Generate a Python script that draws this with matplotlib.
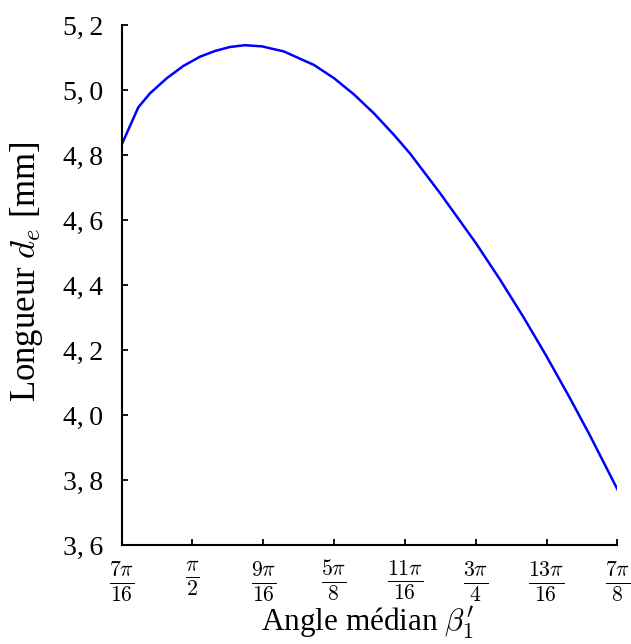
import numpy as np
import matplotlib
matplotlib.use("Agg")
import matplotlib.pyplot as plt

plt.rcParams["font.family"] = ["Liberation Serif", "DejaVu Serif"]
plt.rcParams["mathtext.fontset"] = "cm"

# Median angle beta'_1 (rad) and length d_e (mm)
beta = [1.37445, 1.4210, 1.4534, 1.4997, 1.5457, 1.5920, 1.6335, 1.6751,
        1.7167, 1.7638, 1.8247, 1.9079, 1.9633, 2.0187, 2.0742, 2.1296,
        2.1739, 2.2570, 2.3568, 2.4233, 2.4879, 2.5508, 2.6173, 2.6727,
        2.74889]
d_e = [4.8311, 4.9470, 4.9900, 5.0362, 5.0740, 5.1026, 5.1201, 5.1324,
       5.1379, 5.1342, 5.1185, 5.0770, 5.0365, 4.9864, 4.9280, 4.8619,
       4.8050, 4.6833, 4.5289, 4.4174, 4.3027, 4.1843, 4.0525, 3.9378,
       3.7721]

x_ticks = [7 * np.pi / 16, np.pi / 2, 9 * np.pi / 16, 5 * np.pi / 8,
           11 * np.pi / 16, 3 * np.pi / 4, 13 * np.pi / 16, 7 * np.pi / 8]
x_tick_labels = [r"$\frac{7\pi}{16}$", r"$\frac{\pi}{2}$", r"$\frac{9\pi}{16}$",
                 r"$\frac{5\pi}{8}$", r"$\frac{11\pi}{16}$", r"$\frac{3\pi}{4}$",
                 r"$\frac{13\pi}{16}$", r"$\frac{7\pi}{8}$"]
y_ticks = [3.6, 3.8, 4.0, 4.2, 4.4, 4.6, 4.8, 5.0, 5.2]
y_tick_labels = ["3,\u20096", "3,\u20098", "4,\u20090", "4,\u20092", "4,\u20094",
                 "4,\u20096", "4,\u20098", "5,\u20090", "5,\u20092"]

fig = plt.figure(figsize=(6.31, 6.44), dpi=100)
ax = fig.add_axes([0.1926, 0.1530, 0.7860, 0.8082])

ax.plot(beta, d_e, color="#0000ff", lw=1.8)

ax.set_xlim(x_ticks[0], x_ticks[-1])
ax.set_ylim(3.6, 5.2)
ax.set_xticks(x_ticks)
ax.set_xticklabels(x_tick_labels, fontsize=22.5)
ax.set_yticks(y_ticks)
ax.set_yticklabels(y_tick_labels, fontsize=20)

for side in ("top", "right"):
    ax.spines[side].set_visible(False)
for side in ("left", "bottom"):
    ax.spines[side].set_linewidth(1.5)

ax.tick_params(axis="both", direction="in", length=4, width=1.3)
ax.tick_params(axis="x", pad=10)
ax.tick_params(axis="y", pad=13)

ax.set_xlabel(r"Angle médian $\beta_1'$", fontsize=22.5)
ax.xaxis.set_label_coords(0.4955, -0.1135)
ax.set_ylabel(r"Longueur $d_e$ [mm]", fontsize=25)
ax.yaxis.set_label_coords(-0.154, 0.526)

fig.savefig("out.png", dpi=100)
